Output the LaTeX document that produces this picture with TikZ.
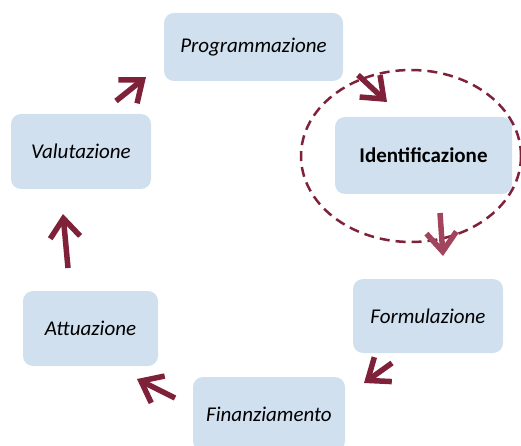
\documentclass[tikz,border=0pt]{standalone}
\usepackage{fontspec}
\setmainfont{Carlito}
\usetikzlibrary{arrows.meta}
\definecolor{boxfill}{HTML}{D0E0EF}
\definecolor{arrdark}{HTML}{7E2139}
\definecolor{arrlight}{HTML}{A2445E}
\begin{document}
\begin{tikzpicture}[x=1pt,y=-1pt,
  stage/.style={fill=boxfill, rounded corners=10pt, inner sep=0pt, font=\fontsize{21}{24}\selectfont\itshape},
  cyc/.style={draw=arrdark, line width=5.5pt, -{Straight Barb[length=19pt,width=30pt]}},
]
\useasboundingbox (0,0) rectangle (521,446);
\node[stage, minimum width=179pt, minimum height=68pt] (prog) at (253.5,47) {Programmazione};
\node[stage, minimum width=177pt, minimum height=77pt, font=\fontsize{21}{24}\selectfont\bfseries] (iden) at (423.5,155.5) {Identificazione};
\node[stage, minimum width=150pt, minimum height=74pt] (form) at (428,316) {Formulazione};
\node[stage, minimum width=152pt, minimum height=74pt] (fin) at (269,414) {Finanziamento};
\node[stage, minimum width=135pt, minimum height=75pt] (att) at (90.5,328.5) {Attuazione};
\node[stage, minimum width=140pt, minimum height=75pt] (val) at (81,151.5) {Valutazione};
\draw[draw=arrdark, line width=2.5pt, dash pattern=on 10pt off 6pt] (411,156) ellipse [x radius=110, y radius=86];
\coordinate (a1s) at (358,75); \coordinate (a1e) at (387,102);
\coordinate (a2s) at (440,213); \coordinate (a2e) at (443,256);
\coordinate (a3s) at (392,363); \coordinate (a3e) at (364,383);
\coordinate (a4s) at (175,398); \coordinate (a4e) at (137,379);
\coordinate (a5s) at (68,268); \coordinate (a5e) at (63,214);
\coordinate (a6s) at (116,101); \coordinate (a6e) at (146,77);
\draw[cyc] (a1s) -- (a1e);
\draw[cyc, draw=arrlight] (a2s) -- (a2e);
\draw[cyc] (a3s) -- (a3e);
\draw[cyc] (a4s) -- (a4e);
\draw[cyc] (a5s) -- (a5e);
\draw[cyc] (a6s) -- (a6e);
\end{tikzpicture}
\end{document}
